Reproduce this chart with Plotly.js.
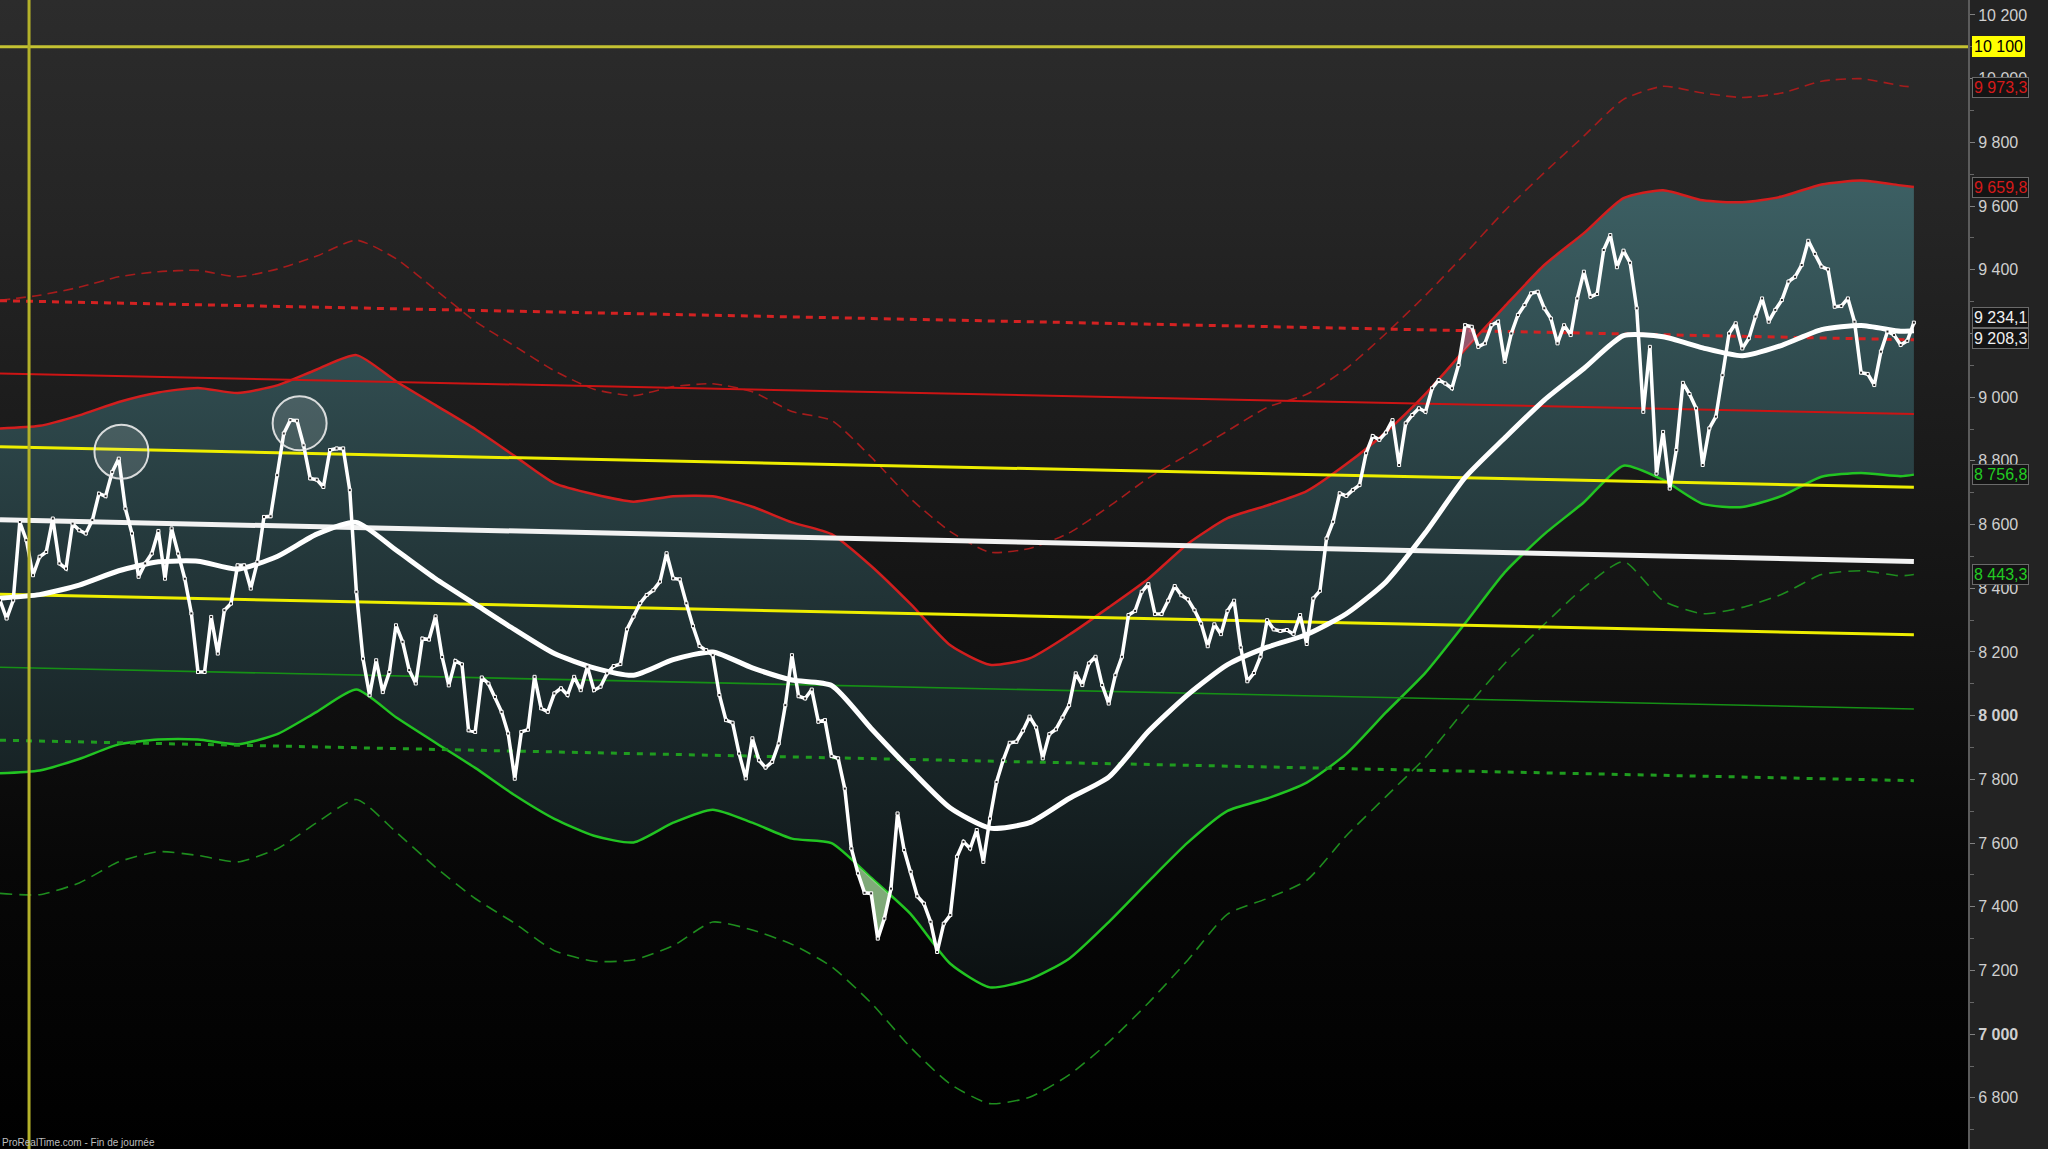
<!DOCTYPE html>
<html>
<head>
<meta charset="utf-8">
<script src="https://cdn.plot.ly/plotly-3.0.1.min.js"></script>
<style>
html,body{margin:0;padding:0;background:#000;overflow:hidden;}
#chart{width:2048px;height:1149px;
  background:linear-gradient(to bottom,#2c2c2c 0%,#252525 18%,#1b1b1b 38%,#111 58%,#070707 76%,#000 100%) 0 0/1968px 100% no-repeat,#232323;}
</style>
</head>
<body>
<div id="chart"></div>
<script>
// ---- daily closes (session index = array position) ----
const price = [
8362,8305,8362,8608,8551,8441,8499,8514,8619,8478,
8462,8603,8582,8572,8614,8697,8689,8765,8807,8650,
8572,8436,8478,8509,8580,8430,8588,8509,8430,8321,
8137,8137,8310,8195,8331,8352,8472,8472,8399,8483,
8624,8626,8755,8886,8928,8926,8849,8745,8741,8718,
8834,8839,8839,8708,8389,8179,8064,8174,8074,8137,
8284,8232,8143,8101,8242,8239,8312,8184,8095,8172,
8161,7954,7949,8120,8101,8059,8012,7944,7802,7949,
7956,8122,8023,8012,8070,
8086,8065,8122,8080,8154,8080,8091,8133,8156,8162,
8271,8311,8353,8379,8394,8421,8510,8431,8428,8353,
8281,8219,8206,8190,8065,7986,7978,7881,7803,7929,
7860,7837,7855,7913,8033,8190,8061,8054,8082,7981,
7986,7873,7866,7771,7583,7505,7444,7442,7300,7363,
7457,7693,7578,7510,7433,7410,7353,7258,7347,7374,
7557,7604,7583,7641,7541,7677,7792,7860,7915,7918,
7953,7997,7963,7866,7942,7957,7994,8033,8133,8096,8164,8185,
8096,8038,8127,8185,8316,8329,8389,8413,8319,8319,
8361,8407,8378,8365,8331,8289,8218,8287,8256,8329,
8361,8214,8108,8134,8185,8300,8271,8266,8269,8256,
8316,8225,8368,8392,8556,8609,
8698,8690,8709,8724,8824,8878,8866,8889,8928,8787,8918,8944,8965,
8954,9028,9054,9043,9028,9101,9226,9221,9158,9169,
9226,9237,9111,9200,9258,9289,9326,9331,9279,9247,
9169,9226,9195,9310,9394,9315,9324,9462,9509,9408,
9460,9422,9279,8954,9158,8760,8891,8713,8834,9045,
9010,8965,8787,8902,8939,9069,9200,9232,9153,9185,
9253,9310,9237,9274,9305,9363,9378,9415,9491,9450,
9410,9401,9284,9286,9310,9237,9077,9073,9038,9143,
9206,9195,9164,9177,9234.1
];
const sessions = price.map((_, i) => i);

// ---- indicator samples (session index, value) ----
const bandDays = [0,6,12,18,24,30,36,42,48,54,60,66,72,78,84,90,96,102,108,114,120,126,132,138,144,150,156,162,168,174,180,186,192,198,204,210,216,222,228,234,240,246,252,258,264,270,276,282,288,290];
const movingAvg = [8369,8380,8410,8455,8483,8485,8460,8500,8570,8607,8520,8430,8350,8270,8195,8150,8127,8176,8200,8150,8112,8095,7960,7830,7710,7647,7664,7740,7807,7950,8066,8160,8215,8255,8320,8420,8575,8748,8872,8991,9090,9193,9190,9155,9130,9163,9212,9225,9207,9208.3];
const upperBand = [8902,8910,8943,8985,9015,9029,9013,9037,9087,9132,9050,8975,8900,8815,8730,8695,8672,8689,8689,8656,8607,8570,8470,8350,8221,8160,8180,8254,8340,8430,8540,8620,8660,8705,8790,8890,9010,9150,9285,9415,9515,9625,9650,9618,9612,9630,9668,9680,9665,9659.8];
const lowerBand = [7819,7828,7864,7910,7925,7925,7910,7942,8012,8082,7995,7915,7836,7750,7676,7623,7602,7664,7705,7664,7614,7600,7491,7377,7221,7147,7172,7237,7352,7479,7602,7701,7740,7790,7880,8010,8135,8290,8450,8570,8670,8785,8740,8665,8655,8690,8750,8762,8752,8756.8];
const outerUpper = [9304,9320,9345,9378,9394,9398,9378,9402,9443,9493,9435,9337,9238,9160,9083,9025,9005,9033,9042,9017,8955,8927,8812,8681,8578,8513,8525,8574,8656,8746,8820,8894,8968,9009,9090,9200,9320,9450,9585,9705,9820,9935,9976,9955,9941,9955,9992,10000,9978,9973.3];
const outerLower = [7442,7438,7475,7541,7573,7561,7541,7582,7664,7737,7635,7524,7426,7348,7262,7229,7233,7278,7352,7327,7282,7212,7098,6958,6843,6782,6802,6872,6975,7098,7233,7377,7426,7483,7623,7746,7869,8020,8164,8287,8402,8484,8361,8320,8340,8381,8443,8455,8439,8443.3];

// ---- band breakouts (price outside the bands) ----
const breakDownDays = [129.63,130,131,132,133,134,134.8,132,129.63];
const breakDownValues = [7534,7505,7444,7442,7300,7363,7438,7491,7534];
const breakUpDays = [221.25,222,223,223.57,222,221.25];
const breakUpValues = [9132,9226,9221,9185,9150,9132];

// ---- regression channel (start / end values) ----
const regDays = [0, 290];
const regCenter = [8615, 8484];
const regUp1 = [8844, 8717];
const regLow1 = [8381, 8254];
const regUp2 = [9074, 8947];
const regLow2 = [8152, 8021];
const regUp3 = [9303, 9180];
const regLow3 = [7923, 7796];

// ---- markers ----
const resistanceLevel = 10100;
const markerDay = 4.4;
const circledDays = [18.4, 45.4];
const circledValues = [8829, 8918];

// ---- axis ----
const yTicks = [6800,7000,7200,7400,7600,7800,8000,8200,8400,8600,8800,9000,9200,9400,9600,9800,10000,10200];
const yTickText = ['6 800','<b>7 000</b>','7 200','7 400','7 600','7 800','<b>8 000</b>','8 200','8 400','8 600','8 800','9 000','9 200','9 400','9 600','9 800','10 000','10 200'];

// ---- right-hand value tags ----
const tagValues = [10100, 9973.3, 9659.8, 9234.1, 9208.3, 8756.8, 8443.3];
const tagTexts = ['10 100','9 973,3','9 659,8','9 234,1','9 208,3','8 756,8','8 443,3'];
const tagColors = ['#000000','#d41a1a','#d41a1a','#f0f0f0','#f0f0f0','#22cc22','#22cc22'];
const tagShift = [0,0,0,5,-8,0,0];

const FONT = 'Liberation Sans, Arial, sans-serif';

function line(x, y, color, width, dash, extra) {
  return Object.assign({type:'scatter', mode:'lines', x:x, y:y, hoverinfo:'skip',
    line:{color:color, width:width, dash:dash || 'solid'}}, extra || {});
}
function smooth(color, width, dash) {
  return {color:color, width:width, dash:dash || 'solid', shape:'spline', smoothing:0.6};
}

const traces = [
  line(bandDays, upperBand, '', 0, '', {line:smooth('#d21e1e', 2.5)}),
  line(bandDays, lowerBand, '', 0, '', {
    line:smooth('#22c422', 2.5),
    fill:'tonexty',
    fillgradient:{type:'vertical', start:7000, stop:9750,
      colorscale:[[0,'rgb(9,12,13)'],[0.5,'rgb(33,51,54)'],[1,'rgb(62,98,102)']]}
  }),
  line(bandDays, outerUpper, '', 0, '', {line:smooth('#a51c1c', 1.6, '10px,6px')}),
  line(bandDays, outerLower, '', 0, '', {line:smooth('#1e8c1e', 1.6, '12px,7px')}),
  line(regDays, regUp3, '#d42222', 3, '7px,6px'),
  line(regDays, regLow3, '#1f9c1f', 3, '6px,7px'),
  line(regDays, regUp2, '#cc1414', 2),
  line(regDays, regLow2, '#169016', 1.6),
  line(regDays, regUp1, '#eeee00', 3),
  line(regDays, regLow1, '#eeee00', 3),
  line(regDays, regCenter, '#f2f2f2', 5),
  line(bandDays, movingAvg, '', 0, '', {line:smooth('#ffffff', 5)}),
  {type:'scatter', mode:'lines', x:breakDownDays, y:breakDownValues, fill:'toself',
   fillcolor:'rgba(170,225,160,0.75)', line:{width:0}, hoverinfo:'skip'},
  {type:'scatter', mode:'lines', x:breakUpDays, y:breakUpValues, fill:'toself',
   fillcolor:'rgba(200,110,140,0.7)', line:{width:0}, hoverinfo:'skip'},
  {type:'scatter', mode:'lines+markers', x:sessions, y:price, hoverinfo:'skip',
   line:{color:'#ffffff', width:3.5},
   marker:{symbol:'square', size:3, color:'#222', line:{color:'#ffffff', width:1}}}
];

const shapes = [
  {type:'line', xref:'paper', yref:'y', x0:0, x1:1, y0:resistanceLevel, y1:resistanceLevel,
   line:{color:'#c4c232', width:3}, layer:'above'},
  {type:'line', xref:'x', yref:'paper', x0:markerDay, x1:markerDay, y0:0, y1:1,
   line:{color:'#b4b22a', width:3}, layer:'above'}
];
circledDays.forEach((d, i) => {
  shapes.push({type:'circle', xref:'x', yref:'y', xsizemode:'pixel', ysizemode:'pixel',
    xanchor:d, yanchor:circledValues[i], x0:-27, x1:27, y0:-27, y1:27,
    line:{color:'rgba(235,235,235,0.9)', width:2}, fillcolor:'rgba(255,255,255,0.13)', layer:'above'});
});

const annotations = tagValues.map((v, i) => ({
  xref:'paper', yref:'y', x:1, y:v, xanchor:'left', yanchor:'middle', xshift:4, yshift:tagShift[i],
  text:tagTexts[i], showarrow:false,
  font:{family:FONT, size:16, color:tagColors[i]},
  bgcolor: i === 0 ? '#ffff00' : '#141414',
  bordercolor: i === 0 ? '#ffff00' : '#6a6a6a', borderwidth:1, borderpad:1
}));
annotations.push({xref:'paper', yref:'paper', x:0, y:0, xanchor:'left', yanchor:'bottom', yshift:-1,
  text:'ProRealTime.com - Fin de journée', showarrow:false,
  font:{family:FONT, size:10, color:'#bdbdbd'}});

const layout = {
  width:2048, height:1149,
  margin:{l:0, r:80, t:0, b:0, pad:0},
  paper_bgcolor:'rgba(0,0,0,0)', plot_bgcolor:'rgba(0,0,0,0)',
  showlegend:false,
  xaxis:{range:[0, 298.2], visible:false, fixedrange:true},
  yaxis:{range:[6639.5, 10247], side:'right', showgrid:false, zeroline:false,
    showline:true, linecolor:'#5c5c5c', linewidth:2,
    tickmode:'array', tickvals:yTicks, ticktext:yTickText,
    ticks:'outside', ticklen:5, tickcolor:'#808080', tickwidth:1,
    minor:{tickmode:'linear', tick0:6700, dtick:200, ticks:'outside', ticklen:4, tickcolor:'#666'},
    tickfont:{family:FONT, size:16, color:'#cfcfcf'}, fixedrange:true},
  shapes:shapes,
  annotations:annotations
};

Plotly.newPlot('chart', traces, layout, {displayModeBar:false, staticPlot:true});
</script>
</body>
</html>
